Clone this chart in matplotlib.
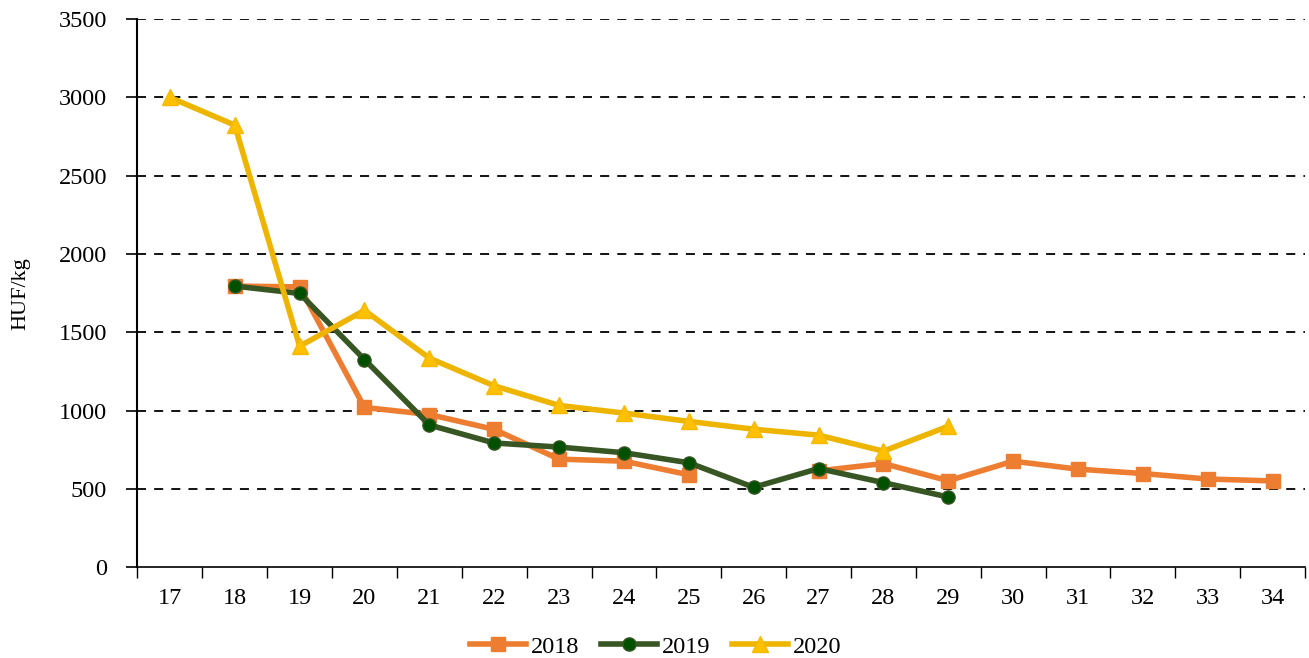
import numpy as np
import matplotlib.pyplot as plt

plt.rcParams['font.family'] = ['Liberation Serif', 'DejaVu Serif']

weeks = [str(w) for w in range(17, 35)]
nan = np.nan

# HUF/kg, one value per week (17..34)
y2018 = [nan, 1795, 1790, 1020, 975, 880, 690, 677, 590, nan,
         615, 662, 552, 677, 626, 598, 563, 551]
y2019 = [nan, 1795, 1748, 1326, 908, 793, 767, 731, 667, 510,
         630, 540, 448, nan, nan, nan, nan, nan]
y2020 = [3000, 2823, 1411, 1640, 1335, 1158, 1033, 984, 931, 881,
         843, 741, 900, nan, nan, nan, nan, nan]

fig, ax = plt.subplots(figsize=(13.09, 6.58), dpi=100)
fig.subplots_adjust(left=0.105, right=0.997, top=0.971, bottom=0.138)

x = np.arange(len(weeks))
ax.plot(x, y2018, color='#ED7D31', lw=4, marker='s', ms=10.5,
        mfc='#ED7D31', mec='#ED7D31', label='2018')
ax.plot(x, y2019, color='#375623', lw=4, marker='o', ms=9.5,
        mfc='#005000', mec='#375623', label='2019')
ax.plot(x, y2020, color='#EDB500', lw=4, marker='^', ms=11.5,
        mfc='#FFC000', mec='#F5BA00', label='2020')

ax.set_xlim(-0.5, len(weeks) - 0.5)
ax.set_ylim(0, 3500)
ax.set_yticks(range(0, 3501, 500))
ax.set_xticks(x)
ax.set_xticklabels(weeks)
ax.set_xticks(np.arange(-0.5, len(weeks), 1), minor=True)
ax.tick_params(axis='x', which='major', length=0, labelsize=17.5, pad=15)
ax.tick_params(axis='x', which='minor', length=8, direction='out', width=1)
ax.tick_params(axis='y', length=8, direction='out', width=1.2, labelsize=17.5, pad=14)

# dashed horizontal grid
for v in range(500, 3501, 500):
    ax.axhline(v, color='black', ls=(0, (5, 4.5)), lw=1.3, zorder=0)

for s in ['top', 'right']:
    ax.spines[s].set_visible(False)
ax.spines['left'].set_linewidth(1.5)
ax.spines['bottom'].set_linewidth(1.2)

ax.set_ylabel('HUF/kg', fontsize=16)
ax.yaxis.set_label_coords(-0.092, 0.5)

fig.legend(loc='upper center', bbox_to_anchor=(0.501, 0.067), ncol=3,
           frameon=False, fontsize=17.5, handlelength=2.3, handletextpad=0.2,
           columnspacing=0.9)

plt.savefig('out.png', dpi=100)
